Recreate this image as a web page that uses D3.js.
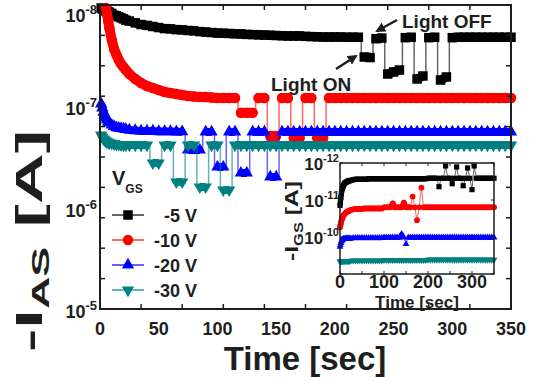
<!DOCTYPE html>
<html><head><meta charset="utf-8">
<script src="https://cdn.jsdelivr.net/npm/d3@7/dist/d3.min.js"></script>
<style>
html,body{margin:0;padding:0;background:#fff;}
svg{display:block;font-family:Arial,"Liberation Sans",sans-serif;font-weight:bold;}
</style></head><body>
<svg id="chart" width="536" height="381"></svg>
<script>
// ---------- DATA ----------
const time = [0,1,2,3,4,5,6,7,8,10, 12,14,16,18,20,22,25,30,35,40,
  45,50,55,60,65,70,75,80,85,90, 95,100,105,110,115,120,125,130,135,140,
  145,150,155,160,165,170,175,180,185,190, 195,200,205,210,215,220,225,230,235,240,
  245,250,255,260,265,270,275,280,285,290, 295,300,305,310,315,320,325,330,335,340, 345,350];

const seriesLabels = ["-5 V", "-10 V", "-20 V", "-30 V"];
const seriesColors = ["#000000", "#ff0000", "#0000ff", "#008080"];

// main plot: -I_AS [A]
const iAS_5V = [null,1.07e-8,1.095e-8,1.10e-8,1.12e-8,1.146e-8,1.15e-8,1.17e-8,1.18e-8,1.21e-8,
  1.26e-8,1.28e-8,1.31e-8,1.34e-8,1.37e-8,1.41e-8,1.44e-8,1.50e-8,1.56e-8,1.59e-8,
  1.63e-8,1.67e-8,1.71e-8,1.72e-8,1.75e-8,1.76e-8,1.785e-8,1.80e-8,1.83e-8,1.85e-8,
  1.87e-8,1.89e-8,1.90e-8,1.91e-8,1.92e-8,1.93e-8,1.95e-8,1.96e-8,1.97e-8,1.98e-8,
  1.99e-8,2.00e-8,2.01e-8,2.02e-8,2.02e-8,2.02e-8,2.04e-8,2.05e-8,2.06e-8,2.07e-8,
  2.07e-8,2.07e-8,2.07e-8,2.08e-8,2.08e-8,2.08e-8,3.26e-8,3.30e-8,2.15e-8,2.12e-8,
  4.80e-8,4.58e-8,4.38e-8,2.10e-8,2.08e-8,5.37e-8,5.02e-8,2.10e-8,2.08e-8,5.50e-8,
  5.13e-8,2.10e-8,2.08e-8,2.08e-8,2.08e-8,2.08e-8,2.08e-8,2.08e-8,2.08e-8,2.08e-8,
  2.08e-8,2.08e-8];
const iAS_10V = [null,null,null,null,null,1.07e-8,1.227e-8,1.44e-8,1.69e-8,2.21e-8,
  2.72e-8,3.11e-8,3.49e-8,3.82e-8,4.09e-8,4.38e-8,4.80e-8,5.37e-8,5.89e-8,6.30e-8,
  6.59e-8,6.90e-8,7.22e-8,7.38e-8,7.55e-8,7.73e-8,7.91e-8,8.0e-8,8.09e-8,8.09e-8,
  8.18e-8,8.27e-8,8.27e-8,8.27e-8,8.27e-8,1.16e-7,1.16e-7,1.16e-7,8.27e-8,8.27e-8,
  1.96e-7,1.96e-7,8.27e-8,8.27e-8,2.05e-7,2.05e-7,8.27e-8,8.27e-8,2.05e-7,2.05e-7,
  8.27e-8,8.27e-8,8.27e-8,8.27e-8,8.27e-8,8.27e-8,8.27e-8,8.27e-8,8.27e-8,8.27e-8,
  8.27e-8,8.27e-8,8.27e-8,8.27e-8,8.27e-8,8.27e-8,8.27e-8,8.27e-8,8.27e-8,8.27e-8,
  8.27e-8,8.27e-8,8.27e-8,8.27e-8,8.27e-8,8.27e-8,8.27e-8,8.27e-8,8.27e-8,8.27e-8,
  8.27e-8,8.27e-8];
const iAS_20V = [null,9.48e-8,1.04e-7,1.14e-7,1.22e-7,1.30e-7,1.36e-7,1.43e-7,1.46e-7,1.53e-7,
  1.58e-7,1.62e-7,1.64e-7,1.65e-7,1.67e-7,1.69e-7,1.71e-7,1.73e-7,1.75e-7,1.75e-7,
  1.75e-7,1.77e-7,1.77e-7,1.77e-7,1.78e-7,1.78e-7,2.70e-7,2.70e-7,2.70e-7,1.79e-7,
  1.79e-7,3.97e-7,3.97e-7,1.79e-7,1.79e-7,4.55e-7,4.55e-7,1.79e-7,1.79e-7,1.79e-7,
  4.98e-7,4.98e-7,1.79e-7,1.79e-7,1.79e-7,1.79e-7,1.79e-7,1.79e-7,1.79e-7,1.79e-7,
  1.79e-7,1.79e-7,1.79e-7,1.79e-7,1.79e-7,1.79e-7,1.79e-7,1.79e-7,1.79e-7,1.79e-7,
  1.79e-7,1.79e-7,1.79e-7,1.79e-7,1.79e-7,1.79e-7,1.79e-7,1.79e-7,1.79e-7,1.79e-7,
  1.79e-7,1.79e-7,1.79e-7,1.79e-7,1.79e-7,1.79e-7,1.79e-7,1.79e-7,1.79e-7,1.79e-7,
  1.79e-7,1.79e-7];
const iAS_30V = [null,1.92e-7,2.01e-7,2.10e-7,2.15e-7,2.20e-7,2.25e-7,2.27e-7,2.30e-7,2.32e-7,
  2.35e-7,2.38e-7,2.38e-7,2.40e-7,2.41e-7,2.41e-7,2.41e-7,2.41e-7,2.41e-7,2.41e-7,
  3.62e-7,3.62e-7,2.41e-7,2.41e-7,5.58e-7,5.58e-7,2.41e-7,2.41e-7,6.25e-7,6.25e-7,
  2.41e-7,2.41e-7,6.69e-7,6.69e-7,2.41e-7,2.41e-7,2.41e-7,2.41e-7,2.41e-7,2.41e-7,
  2.41e-7,2.41e-7,2.41e-7,2.41e-7,2.41e-7,2.41e-7,2.41e-7,2.41e-7,2.41e-7,2.41e-7,
  2.41e-7,2.41e-7,2.41e-7,2.41e-7,2.41e-7,2.41e-7,2.41e-7,2.41e-7,2.41e-7,2.41e-7,
  2.41e-7,2.41e-7,2.41e-7,2.41e-7,2.41e-7,2.41e-7,2.41e-7,2.41e-7,2.41e-7,2.41e-7,
  2.41e-7,2.41e-7,2.41e-7,2.41e-7,2.41e-7,2.41e-7,2.41e-7,2.41e-7,2.41e-7,2.41e-7,
  2.41e-7,2.41e-7];

// inset: -I_GS [A]
const iGS_5V = [1.40e-11,1.17e-11,8.58e-12,6.71e-12,5.58e-12,4.93e-12,4.50e-12,4.23e-12,3.98e-12,3.63e-12,
  3.41e-12,3.31e-12,3.21e-12,3.11e-12,3.02e-12,3.02e-12,2.93e-12,2.84e-12,2.75e-12,2.75e-12,
  2.75e-12,2.75e-12,2.75e-12,2.75e-12,2.67e-12,2.67e-12,2.67e-12,2.67e-12,2.67e-12,2.67e-12,
  2.67e-12,2.67e-12,2.67e-12,2.67e-12,2.67e-12,2.67e-12,2.67e-12,2.67e-12,2.67e-12,2.67e-12,
  2.67e-12,2.67e-12,2.67e-12,2.67e-12,2.67e-12,2.67e-12,2.67e-12,2.67e-12,2.67e-12,2.67e-12,
  2.67e-12,2.59e-12,2.59e-12,2.59e-12,2.59e-12,2.59e-12,4.37e-12,2.59e-12,2.59e-12,1.20e-12,
  2.59e-12,2.59e-12,3.63e-12,2.59e-12,1.28e-12,2.59e-12,2.59e-12,4.11e-12,2.59e-12,1.36e-12,
  2.59e-12,5.25e-12,1.20e-12,2.59e-12,2.59e-12,2.59e-12,2.59e-12,2.59e-12,2.59e-12,2.59e-12,
  2.59e-12,2.59e-12];
const iGS_10V = [5.41e-11,4.79e-11,4.24e-11,3.74e-11,3.41e-11,3.11e-11,2.93e-11,2.75e-11,2.59e-11,2.44e-11,
  2.29e-11,2.15e-11,2.09e-11,2.03e-11,1.97e-11,1.91e-11,1.85e-11,1.79e-11,1.74e-11,1.74e-11,
  1.74e-11,1.74e-11,1.69e-11,1.69e-11,1.69e-11,1.69e-11,1.69e-11,1.69e-11,1.69e-11,1.69e-11,
  1.69e-11,1.58e-11,1.58e-11,1.58e-11,1.58e-11,1.24e-11,1.58e-11,1.58e-11,1.58e-11,1.58e-11,
  1.17e-11,1.58e-11,1.58e-11,1.58e-11,8.07e-12,1.58e-11,3.52e-11,1.58e-11,4.64e-12,1.58e-11,
  1.58e-11,1.58e-11,1.58e-11,1.58e-11,1.58e-11,1.58e-11,1.58e-11,1.58e-11,1.58e-11,1.58e-11,
  1.58e-11,1.58e-11,1.58e-11,1.58e-11,1.58e-11,1.58e-11,1.58e-11,1.58e-11,1.58e-11,1.58e-11,
  1.58e-11,1.58e-11,1.58e-11,1.58e-11,1.58e-11,1.58e-11,1.58e-11,1.58e-11,1.58e-11,1.58e-11,
  1.58e-11,1.58e-11];
const iGS_20V = [1.85e-10,1.63e-10,1.45e-10,1.32e-10,1.24e-10,1.20e-10,1.17e-10,1.13e-10,1.13e-10,1.13e-10,
  1.10e-10,1.10e-10,1.10e-10,1.10e-10,1.10e-10,1.10e-10,1.10e-10,1.06e-10,1.06e-10,1.06e-10,
  1.06e-10,1.06e-10,1.06e-10,1.06e-10,1.06e-10,1.06e-10,1.06e-10,1.06e-10,1.06e-10,1.06e-10,
  1.06e-10,1.03e-10,1.03e-10,1.03e-10,1.03e-10,1.03e-10,1.03e-10,1.03e-10,1.03e-10,8.32e-11,
  1.03e-10,1.54e-10,1.03e-10,1.03e-10,1.03e-10,1.03e-10,1.03e-10,1.03e-10,1.03e-10,1.03e-10,
  1.03e-10,1.03e-10,1.03e-10,1.03e-10,1.03e-10,1.03e-10,1.03e-10,1.03e-10,1.03e-10,1.03e-10,
  1.03e-10,1.03e-10,1.03e-10,1.03e-10,1.03e-10,1.03e-10,1.03e-10,1.03e-10,1.03e-10,1.03e-10,
  1.03e-10,1.03e-10,1.03e-10,1.03e-10,1.03e-10,1.03e-10,1.03e-10,1.03e-10,1.03e-10,1.03e-10,
  1.03e-10,1.03e-10];
const iGS_30V = [4.64e-10,4.50e-10,4.50e-10,4.50e-10,4.50e-10,4.50e-10,4.50e-10,4.50e-10,4.50e-10,4.50e-10,
  4.50e-10,4.50e-10,4.50e-10,4.50e-10,4.50e-10,4.50e-10,4.37e-10,4.37e-10,4.37e-10,4.37e-10,
  4.37e-10,4.37e-10,4.37e-10,4.37e-10,4.37e-10,4.37e-10,4.37e-10,4.37e-10,4.37e-10,4.37e-10,
  4.37e-10,4.23e-10,4.23e-10,4.23e-10,4.23e-10,4.23e-10,4.23e-10,4.23e-10,4.23e-10,4.23e-10,
  4.23e-10,4.23e-10,4.23e-10,4.23e-10,4.23e-10,4.23e-10,4.23e-10,4.23e-10,4.23e-10,4.23e-10,
  4.23e-10,4.11e-10,4.11e-10,4.11e-10,4.11e-10,4.11e-10,4.11e-10,4.11e-10,4.11e-10,4.11e-10,
  4.11e-10,4.11e-10,4.11e-10,4.11e-10,4.11e-10,4.11e-10,4.11e-10,4.11e-10,4.11e-10,4.11e-10,
  4.11e-10,4.11e-10,4.11e-10,4.11e-10,4.11e-10,4.11e-10,4.11e-10,4.11e-10,4.11e-10,4.11e-10,
  4.11e-10,4.11e-10];

const xTickLabels = [0, 50, 100, 150, 200, 250, 300, 350];
const yTickExponents = [-8, -7, -6, -5];
const insetXTickLabels = [0, 100, 200, 300];
const insetYTickExponents = [-12, -11, -10];

// ---------- DRAW ----------
const svg = d3.select("#chart");
const ink = "#1e1e1e";
const P = {l: 100, r: 511, t: 5, b: 309};
const x = d3.scaleLinear().domain([0, 350]).range([P.l, P.r]);
const y = d3.scaleLog().domain([1e-8, 1e-5]).range([P.t, P.b]);

const symbols = [
  {type: d3.symbolSquare, size: 90, rot: 0, band: 9, cap: "butt"},
  {type: d3.symbolCircle, size: 85, rot: 0, band: 10, cap: "round"},
  {type: d3.symbolTriangle, size: 66, rot: 0, band: 8, cap: "butt"},
  {type: d3.symbolTriangle, size: 66, rot: 180, band: 8, cap: "butt"}
];

// thin connecting line, a dense marker band along continuous runs, and the markers
function drawSeries(g, xs, ys, vals, k, scale, curve, lw, jump) {
  const pts = time.map((t, i) => ({t: t, v: vals[i]})).filter(d => d.v != null)
    .map(d => ({px: xs(d.t), py: ys(d.v)}));
  const col = seriesColors[k];
  const thin = d3.line().x(d => d.px).y(d => d.py).curve(curve);
  g.append("path").attr("d", thin(pts)).attr("fill", "none")
    .attr("stroke", col).attr("stroke-opacity", 0.6).attr("stroke-width", lw);
  const runs = [];
  let cur = [pts[0]];
  for (let i = 1; i < pts.length; i++) {
    if (Math.abs(pts[i].py - pts[i - 1].py) < jump) cur.push(pts[i]);
    else { runs.push(cur); cur = [pts[i]]; }
  }
  runs.push(cur);
  const lin = d3.line().x(d => d.px).y(d => d.py);
  runs.filter(r => r.length > 1).forEach(r => {
    g.append("path").attr("d", lin(r)).attr("fill", "none").attr("stroke", col)
      .attr("stroke-width", symbols[k].band * scale).attr("stroke-linejoin", "round")
      .attr("stroke-linecap", symbols[k].cap);
  });
  const sym = d3.symbol(symbols[k].type, symbols[k].size * scale * scale);
  g.append("g").selectAll("path").data(pts).join("path")
    .attr("d", sym)
    .attr("transform", d => `translate(${d.px},${d.py}) rotate(${symbols[k].rot})`)
    .attr("fill", col);
}

// main series
const mainSeries = [iAS_5V, iAS_10V, iAS_20V, iAS_30V];
const gMain = svg.append("g");
mainSeries.forEach((vals, k) => drawSeries(gMain, x, y, vals, k, 1, d3.curveStep, 1.5, 14));

// main frame + ticks
svg.append("rect").attr("x", P.l).attr("y", P.t).attr("width", P.r - P.l).attr("height", P.b - P.t)
  .attr("fill", "none").attr("stroke", ink).attr("stroke-width", 2);
const xMinor = d3.range(0, 351, 35);
xMinor.forEach(v => {
  svg.append("line").attr("x1", x(v)).attr("x2", x(v)).attr("y1", P.b).attr("y2", P.b - 5).attr("stroke", ink).attr("stroke-width", 1.5);
  svg.append("line").attr("x1", x(v)).attr("x2", x(v)).attr("y1", P.t).attr("y2", P.t + 5).attr("stroke", ink).attr("stroke-width", 1.5);
});
const yMinor = d3.range(0, 11).map(i => Math.pow(10, -8 + 0.3 * i));
yMinor.forEach(v => {
  svg.append("line").attr("x1", P.l).attr("x2", P.l + 5).attr("y1", y(v)).attr("y2", y(v)).attr("stroke", ink).attr("stroke-width", 1.5);
  svg.append("line").attr("x1", P.r).attr("x2", P.r - 5).attr("y1", y(v)).attr("y2", y(v)).attr("stroke", ink).attr("stroke-width", 1.5);
});
svg.append("g").selectAll("text").data(xTickLabels).join("text")
  .attr("x", d => x(d)).attr("y", 335).attr("text-anchor", "middle")
  .attr("font-size", 18).attr("fill", ink).text(d => d);
yTickExponents.forEach(e => {
  const t = svg.append("text").attr("x", 97).attr("y", Math.max(22, y(Math.pow(10, e)) + 9))
    .attr("text-anchor", "end").attr("fill", ink);
  t.append("tspan").attr("font-size", 18).text("10");
  t.append("tspan").attr("font-size", 13).attr("dy", -8).text(String(e));
});
svg.append("text").attr("x", 305).attr("y", 370).attr("text-anchor", "middle")
  .attr("font-size", 33).attr("fill", ink).text("Time [sec]");
const yt = svg.append("text").attr("transform", "translate(42,241) rotate(-90)")
  .attr("text-anchor", "middle").attr("fill", ink).attr("font-size", 36)
  .attr("textLength", 222).attr("lengthAdjust", "spacingAndGlyphs");
yt.append("tspan").text("-I");
yt.append("tspan").attr("font-size", 23).attr("dy", 7).text("AS");
yt.append("tspan").attr("dy", -7).text(" [A]");

// legend
const lg = svg.append("g");
const lt = lg.append("text").attr("x", 112).attr("y", 185).attr("fill", ink);
lt.append("tspan").attr("font-size", 20).text("V");
lt.append("tspan").attr("font-size", 12).attr("dy", 8).text("GS");
seriesLabels.forEach((lab, k) => {
  const yy = 215 + 25 * k;
  lg.append("line").attr("x1", 112).attr("x2", 144).attr("y1", yy).attr("y2", yy)
    .attr("stroke", seriesColors[k]).attr("stroke-opacity", 0.6).attr("stroke-width", 2);
  lg.append("path").attr("d", d3.symbol(symbols[k].type, symbols[k].size)())
    .attr("transform", `translate(128,${yy}) rotate(${symbols[k].rot})`).attr("fill", seriesColors[k]);
  lg.append("text").attr("x", 197).attr("y", yy + 7).attr("text-anchor", "end")
    .attr("font-size", 18).attr("fill", ink).text(lab);
});

// annotations
const defs = svg.append("defs");
defs.append("marker").attr("id", "ah").attr("viewBox", "0 0 10 10").attr("refX", 8).attr("refY", 5)
  .attr("markerWidth", 4).attr("markerHeight", 4).attr("orient", "auto")
  .append("path").attr("d", "M0,0 L10,5 L0,10 z").attr("fill", ink);
svg.append("text").attr("x", 271).attr("y", 91).attr("font-size", 19).attr("fill", ink).text("Light ON");
svg.append("text").attr("x", 402).attr("y", 28).attr("font-size", 19).attr("fill", ink).text("Light OFF");
svg.append("line").attr("x1", 336).attr("y1", 69).attr("x2", 356).attr("y2", 56)
  .attr("stroke", ink).attr("stroke-width", 2.5).attr("marker-end", "url(#ah)");
svg.append("line").attr("x1", 397).attr("y1", 20).attr("x2", 377).attr("y2", 31)
  .attr("stroke", ink).attr("stroke-width", 2.5).attr("marker-end", "url(#ah)");

// ---------- INSET ----------
const I = {l: 340, r: 494, t: 163, b: 274};
const xi = d3.scaleLinear().domain([0, 350]).range([I.l, I.r]);
const yi = d3.scaleLog().domain([1e-12, 1e-9]).range([I.t, I.b]);
svg.append("rect").attr("x", I.l).attr("y", I.t).attr("width", I.r - I.l).attr("height", I.b - I.t)
  .attr("fill", "#fff");
const gIn = svg.append("g");
[iGS_5V, iGS_10V, iGS_20V, iGS_30V].forEach((vals, k) => drawSeries(gIn, xi, yi, vals, k, 0.55, d3.curveLinear, 1, 5));
svg.append("rect").attr("x", I.l).attr("y", I.t).attr("width", I.r - I.l).attr("height", I.b - I.t)
  .attr("fill", "none").attr("stroke", ink).attr("stroke-width", 1.5);
d3.range(0, 351, 50).forEach(v => {
  svg.append("line").attr("x1", xi(v)).attr("x2", xi(v)).attr("y1", I.b).attr("y2", I.b - 3).attr("stroke", ink);
  svg.append("line").attr("x1", xi(v)).attr("x2", xi(v)).attr("y1", I.t).attr("y2", I.t + 3).attr("stroke", ink);
});
[-12, -11, -10, -9].forEach(e => {
  const v = Math.pow(10, e);
  svg.append("line").attr("x1", I.l).attr("x2", I.l + 3).attr("y1", yi(v)).attr("y2", yi(v)).attr("stroke", ink);
  svg.append("line").attr("x1", I.r).attr("x2", I.r - 3).attr("y1", yi(v)).attr("y2", yi(v)).attr("stroke", ink);
});
svg.append("g").selectAll("text").data(insetXTickLabels).join("text")
  .attr("x", d => xi(d)).attr("y", 288).attr("text-anchor", "middle")
  .attr("font-size", 18).attr("fill", ink).text(d => d);
insetYTickExponents.forEach(e => {
  const t = svg.append("text").attr("x", 339).attr("y", Math.max(170, yi(Math.pow(10, e)) + 7))
    .attr("text-anchor", "end").attr("fill", ink);
  t.append("tspan").attr("font-size", 17).text("10");
  t.append("tspan").attr("font-size", 11).attr("dy", -8).text(String(e));
});
svg.append("text").attr("x", 417).attr("y", 308).attr("text-anchor", "middle")
  .attr("font-size", 17).attr("fill", ink).text("Time [sec]");
const yit = svg.append("text").attr("transform", "translate(298,221) rotate(-90)")
  .attr("text-anchor", "middle").attr("fill", ink).attr("font-size", 18)
  .attr("textLength", 80).attr("lengthAdjust", "spacingAndGlyphs");
yit.append("tspan").text("-I");
yit.append("tspan").attr("font-size", 12).attr("dy", 5).text("GS");
yit.append("tspan").attr("dy", -5).text(" [A]");
</script>
</body></html>
